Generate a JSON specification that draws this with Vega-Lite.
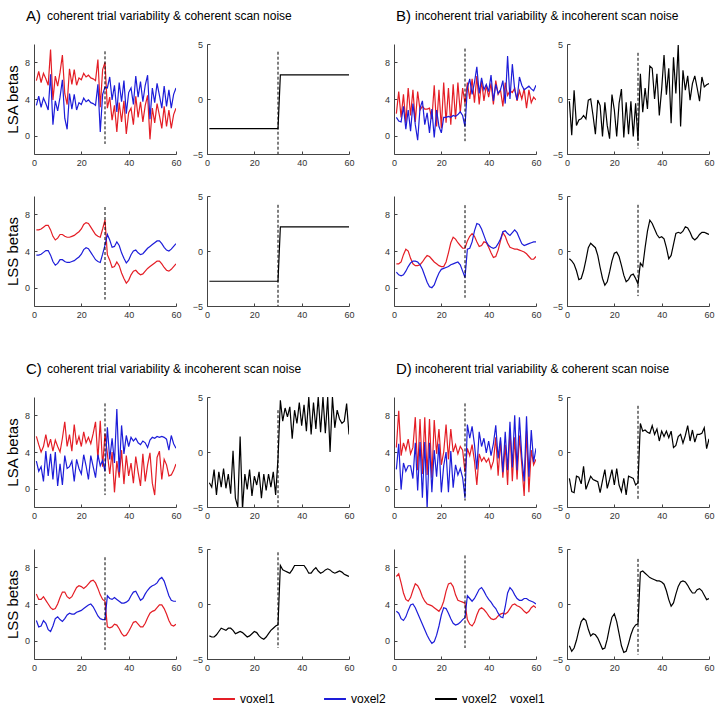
{
"$schema":"https://vega.github.io/schema/vega-lite/v6.json",
"padding":{"left":5,"top":9,"right":2,"bottom":2},
"data":{"values":[
{"x":1,"a1r":6.0,"a1b":3.3,"a1k":-2.7,"a2r":6.3,"a2b":3.55,"a2k":-2.75,"b1r":2.4,"b1b":2.0,"b1k":-0.2,"b2r":2.6,"b2b":1.7,"b2k":-0.7,"c1r":5.7,"c1b":3.0,"c1k":-2.8,"c2r":5.1,"c2b":2.2,"c2k":-2.9,"d1r":4.5,"d1b":2.1,"d1k":-2.4,"d2r":7.0,"d2b":3.2,"d2k":-3.8},
{"x":2,"a1r":7.0,"a1b":4.3,"a1k":-2.7,"a2r":6.3,"a2b":3.55,"a2k":-2.75,"b1r":4.8,"b1b":1.6,"b1k":-3.3,"b2r":2.6,"b2b":1.4,"b2k":-0.9,"c1r":4.8,"c1b":1.9,"c1k":-3.2,"c2r":4.5,"c2b":1.5,"c2k":-3.0,"d1r":8.5,"d1b":4.9,"d1k":-3.6,"d2r":7.3,"d2b":3.0,"d2k":-4.3},
{"x":3,"a1r":5.8,"a1b":3.1,"a1k":-2.7,"a2r":6.4,"a2b":3.65,"a2k":-2.75,"b1r":2.0,"b1b":1.5,"b1k":0.8,"b2r":2.8,"b2b":1.3,"b2k":-1.2,"c1r":4.0,"c1b":2.4,"c1k":-1.6,"c2r":4.5,"c2b":1.6,"c2k":-3.0,"d1r":3.6,"d1b":-0.1,"d1k":-3.7,"d2r":6.3,"d2b":2.4,"d2k":-4.0},
{"x":4,"a1r":6.8,"a1b":4.1,"a1k":-2.7,"a2r":6.6,"a2b":3.85,"a2k":-2.75,"b1r":4.5,"b1b":3.2,"b1k":-2.4,"b2r":3.6,"b2b":1.4,"b2k":-1.8,"c1r":4.6,"c1b":0.8,"c1k":-3.9,"c2r":4.8,"c2b":2.2,"c2k":-2.8,"d1r":5.0,"d1b":2.8,"d1k":-2.2,"d2r":5.2,"d2b":2.2,"d2k":-3.3},
{"x":5,"a1r":6.2,"a1b":3.5,"a1k":-2.7,"a2r":6.8,"a2b":4.05,"a2k":-2.75,"b1r":1.4,"b1b":0.7,"b1k":-1.9,"b2r":4.2,"b2b":1.8,"b2k":-2.6,"c1r":5.9,"c1b":4.1,"c1k":-1.8,"c2r":4.4,"c2b":1.9,"c2k":-2.5,"d1r":4.2,"d1b":1.9,"d1k":-2.3,"d2r":4.5,"d2b":2.6,"d2k":-2.4},
{"x":6,"a1r":5.5,"a1b":2.8,"a1k":-2.7,"a2r":6.8,"a2b":4.05,"a2k":-2.75,"b1r":5.2,"b1b":2.8,"b1k":-1.8,"b2r":4.0,"b2b":2.3,"b2k":-2.5,"c1r":4.5,"c1b":1.4,"c1k":-3.2,"c2r":4.0,"c2b":1.2,"c2k":-2.2,"d1r":5.4,"d1b":2.5,"d1k":-2.9,"d2r":4.3,"d2b":3.3,"d2k":-1.6},
{"x":7,"a1r":9.4,"a1b":6.7,"a1k":-2.7,"a2r":6.3,"a2b":3.55,"a2k":-2.75,"b1r":2.2,"b1b":0.5,"b1k":-1.5,"b2r":3.2,"b2b":2.7,"b2k":-1.8,"c1r":5.4,"c1b":3.8,"c1k":-1.5,"c2r":3.6,"c2b":1.0,"c2k":-2.3,"d1r":3.8,"d1b":2.5,"d1k":-1.3,"d2r":4.7,"d2b":3.9,"d2k":-1.3},
{"x":8,"a1r":3.9,"a1b":1.2,"a1k":-2.7,"a2r":5.6,"a2b":2.85,"a2k":-2.75,"b1r":5.0,"b1b":3.5,"b1k":-1.8,"b2r":2.6,"b2b":2.9,"b2k":-0.8,"c1r":4.1,"c1b":1.0,"c1k":-3.3,"c2r":3.4,"c2b":1.6,"c2k":-2.4,"d1r":4.5,"d1b":1.1,"d1k":-3.4,"d2r":5.5,"d2b":4.0,"d2k":-1.5},
{"x":9,"a1r":6.5,"a1b":3.8,"a1k":-2.7,"a2r":5.2,"a2b":2.45,"a2k":-2.75,"b1r":1.5,"b1b":1.2,"b1k":-0.1,"b2r":2.4,"b2b":2.9,"b2k":0.3,"c1r":5.3,"c1b":4.0,"c1k":-2.0,"c2r":3.5,"c2b":2.4,"c2k":-2.2,"d1r":7.8,"d1b":5.0,"d1k":-2.8,"d2r":6.2,"d2b":3.6,"d2k":-2.3},
{"x":10,"a1r":5.4,"a1b":2.7,"a1k":-2.7,"a2r":5.4,"a2b":2.65,"a2k":-2.75,"b1r":4.8,"b1b":-0.5,"b1k":0.0,"b2r":2.4,"b2b":2.8,"b2k":0.7,"c1r":4.6,"c1b":0.3,"c1k":-3.8,"c2r":4.0,"c2b":2.6,"c2k":-2.2,"d1r":2.0,"d1b":-0.2,"d1k":-2.2,"d2r":6.0,"d2b":3.0,"d2k":-2.9},
{"x":11,"a1r":6.9,"a1b":4.2,"a1k":-2.7,"a2r":5.8,"a2b":3.05,"a2k":-2.75,"b1r":2.8,"b1b":3.0,"b1k":-1.5,"b2r":2.5,"b2b":2.5,"b2k":0.5,"c1r":4.0,"c1b":2.7,"c1k":0.1,"c2r":4.7,"c2b":2.3,"c2k":-2.4,"d1r":7.6,"d1b":5.1,"d1k":-2.5,"d2r":5.5,"d2b":2.4,"d2k":-2.7},
{"x":12,"a1r":8.8,"a1b":6.1,"a1k":-2.7,"a2r":5.8,"a2b":3.05,"a2k":-2.75,"b1r":3.2,"b1b":3.8,"b1k":-3.2,"b2r":2.8,"b2b":2.0,"b2k":0.3,"c1r":5.5,"c1b":0.4,"c1k":-4.2,"c2r":5.3,"c2b":2.1,"c2k":-2.7,"d1r":1.6,"d1b":-1.0,"d1k":-2.6,"d2r":4.8,"d2b":1.8,"d2k":-2.8},
{"x":13,"a1r":4.6,"a1b":1.9,"a1k":-2.7,"a2r":5.6,"a2b":2.85,"a2k":-2.75,"b1r":2.9,"b1b":1.2,"b1k":-0.1,"b2r":3.2,"b2b":1.3,"b2k":-0.4,"c1r":7.3,"c1b":3.6,"c1k":-5.0,"c2r":5.3,"c2b":2.4,"c2k":-2.6,"d1r":7.8,"d1b":5.1,"d1k":-2.7,"d2r":4.3,"d2b":1.2,"d2k":-3.1},
{"x":14,"a1r":3.4,"a1b":0.7,"a1k":-2.7,"a2r":5.5,"a2b":2.75,"a2k":-2.75,"b1r":2.9,"b1b":2.5,"b1k":-0.6,"b2r":3.5,"b2b":0.6,"b2k":-1.5,"c1r":4.6,"c1b":2.2,"c1k":1.4,"c2r":4.8,"c2b":2.8,"c2k":-2.5,"d1r":1.5,"d1b":-2.2,"d1k":-3.7,"d2r":4.0,"d2b":0.6,"d2k":-3.6},
{"x":15,"a1r":7.3,"a1b":4.6,"a1k":-2.7,"a2r":5.5,"a2b":2.75,"a2k":-2.75,"b1r":3.0,"b1b":0.3,"b1k":-3.4,"b2r":3.4,"b2b":0.1,"b2k":-2.5,"c1r":5.9,"c1b":2.4,"c1k":-5.2,"c2r":4.6,"c2b":3.0,"c2k":-2.6,"d1r":7.6,"d1b":5.0,"d1k":-2.6,"d2r":3.9,"d2b":0.1,"d2k":-4.1},
{"x":16,"a1r":5.6,"a1b":2.9,"a1k":-2.7,"a2r":5.6,"a2b":2.85,"a2k":-2.75,"b1r":1.8,"b1b":2.9,"b1k":-0.3,"b2r":3.1,"b2b":0.0,"b2k":-3.1,"c1r":4.1,"c1b":3.0,"c1k":-2.0,"c2r":4.8,"c2b":2.9,"c2k":-2.8,"d1r":1.2,"d1b":-0.4,"d1k":-1.6,"d2r":3.8,"d2b":-0.3,"d2k":-4.0},
{"x":17,"a1r":7.2,"a1b":4.5,"a1k":-2.7,"a2r":5.7,"a2b":2.95,"a2k":-2.75,"b1r":5.5,"b1b":-0.2,"b1k":-2.4,"b2r":2.8,"b2b":0.3,"b2k":-2.8,"c1r":7.0,"c1b":0.8,"c1k":-3.4,"c2r":5.3,"c2b":2.9,"c2k":-3.0,"d1r":7.5,"d1b":4.2,"d1k":-3.3,"d2r":3.6,"d2b":-0.1,"d2k":-3.2},
{"x":18,"a1r":5.5,"a1b":2.8,"a1k":-2.7,"a2r":5.9,"a2b":3.15,"a2k":-2.75,"b1r":1.0,"b1b":2.8,"b1k":-3.6,"b2r":2.6,"b2b":1.0,"b2k":-1.9,"c1r":4.8,"c1b":3.2,"c1k":-1.6,"c2r":5.8,"c2b":3.1,"c2k":-2.9,"d1r":3.8,"d1b":1.3,"d1k":-2.5,"d2r":3.4,"d2b":0.6,"d2k":-2.1},
{"x":19,"a1r":6.3,"a1b":3.6,"a1k":-2.7,"a2r":6.1,"a2b":3.35,"a2k":-2.75,"b1r":5.0,"b1b":1.0,"b1k":0.4,"b2r":2.4,"b2b":1.6,"b2k":-0.9,"c1r":5.7,"c1b":2.2,"c1k":-4.0,"c2r":6.0,"c2b":3.2,"c2k":-2.7,"d1r":6.5,"d1b":4.9,"d1k":-1.6,"d2r":3.2,"d2b":1.6,"d2k":-1.2},
{"x":20,"a1r":6.1,"a1b":3.4,"a1k":-2.7,"a2r":6.4,"a2b":3.65,"a2k":-2.75,"b1r":0.8,"b1b":0.3,"b1k":-1.0,"b2r":2.3,"b2b":2.0,"b2k":-0.2,"c1r":4.6,"c1b":1.6,"c1k":-2.2,"c2r":5.9,"c2b":3.3,"c2k":-2.5,"d1r":2.6,"d1b":-0.4,"d1k":-3.0,"d2r":3.6,"d2b":2.8,"d2k":-0.9},
{"x":21,"a1r":6.8,"a1b":4.1,"a1k":-2.7,"a2r":6.9,"a2b":4.15,"a2k":-2.75,"b1r":5.8,"b1b":2.0,"b1k":-3.4,"b2r":2.3,"b2b":2.1,"b2k":-0.1,"c1r":6.2,"c1b":3.7,"c1k":-3.0,"c2r":5.7,"c2b":3.5,"c2k":-2.6,"d1r":4.0,"d1b":2.5,"d1k":-1.5,"d2r":4.3,"d2b":3.6,"d2k":-1.6},
{"x":22,"a1r":6.4,"a1b":3.7,"a1k":-2.7,"a2r":7.1,"a2b":4.35,"a2k":-2.75,"b1r":1.4,"b1b":2.0,"b1k":-0.4,"b2r":2.8,"b2b":2.2,"b2k":-0.5,"c1r":5.0,"c1b":2.5,"c1k":-1.8,"c2r":5.9,"c2b":3.7,"c2k":-2.9,"d1r":7.0,"d1b":4.0,"d1k":-3.0,"d2r":5.4,"d2b":3.5,"d2k":-2.7},
{"x":23,"a1r":6.6,"a1b":3.9,"a1k":-2.7,"a2r":7.0,"a2b":4.25,"a2k":-2.75,"b1r":5.2,"b1b":2.1,"b1k":0.9,"b2r":3.8,"b2b":2.3,"b2k":-1.3,"c1r":5.6,"c1b":1.0,"c1k":-4.2,"c2r":6.2,"c2b":3.9,"c2k":-3.1,"d1r":3.2,"d1b":-0.4,"d1k":-3.6,"d2r":6.2,"d2b":3.0,"d2k":-3.8},
{"x":24,"a1r":6.3,"a1b":3.6,"a1k":-2.7,"a2r":6.6,"a2b":3.85,"a2k":-2.75,"b1r":1.2,"b1b":2.0,"b1k":-3.5,"b2r":4.9,"b2b":2.5,"b2k":-2.2,"c1r":4.9,"c1b":3.6,"c1k":-2.0,"c2r":6.5,"c2b":4.0,"c2k":-3.2,"d1r":6.5,"d1b":4.1,"d1k":-2.4,"d2r":6.3,"d2b":2.4,"d2k":-4.4},
{"x":25,"a1r":6.2,"a1b":3.5,"a1k":-2.7,"a2r":6.2,"a2b":3.45,"a2k":-2.75,"b1r":5.6,"b1b":2.2,"b1k":-0.3,"b2r":5.5,"b2b":2.6,"b2k":-2.8,"c1r":6.0,"c1b":2.4,"c1k":-3.5,"c2r":6.6,"c2b":3.7,"c2k":-3.0,"d1r":4.0,"d1b":0.1,"d1k":-3.9,"d2r":5.9,"d2b":1.9,"d2k":-4.3},
{"x":26,"a1r":6.0,"a1b":3.3,"a1k":-2.7,"a2r":5.8,"a2b":3.05,"a2k":-2.75,"b1r":1.8,"b1b":2.1,"b1k":-3.2,"b2r":5.3,"b2b":2.7,"b2k":-2.6,"c1r":7.3,"c1b":1.2,"c1k":-2.0,"c2r":6.3,"c2b":3.2,"c2k":-2.7,"d1r":4.8,"d1b":2.6,"d1k":-2.2,"d2r":5.0,"d2b":1.7,"d2k":-3.6},
{"x":27,"a1r":8.3,"a1b":5.6,"a1k":-2.7,"a2r":5.6,"a2b":2.85,"a2k":-2.75,"b1r":5.8,"b1b":2.3,"b1k":-0.2,"b2r":4.9,"b2b":2.8,"b2k":-2.2,"c1r":3.2,"c1b":3.7,"c1k":-3.2,"c2r":5.7,"c2b":2.7,"c2k":-2.4,"d1r":3.8,"d1b":1.5,"d1k":-2.3,"d2r":4.4,"d2b":1.8,"d2k":-2.8},
{"x":28,"a1r":3.1,"a1b":0.4,"a1k":-2.7,"a2r":5.5,"a2b":2.75,"a2k":-2.75,"b1r":2.5,"b1b":2.6,"b1k":-3.4,"b2r":4.6,"b2b":2.5,"b2k":-2.1,"c1r":7.4,"c1b":2.5,"c1k":-1.8,"c2r":5.0,"c2b":2.4,"c2k":-2.2,"d1r":4.6,"d1b":2.2,"d1k":-2.4,"d2r":4.3,"d2b":2.0,"d2k":-2.2},
{"x":29,"a1r":7.2,"a1b":4.5,"a1k":-2.7,"a2r":6.4,"a2b":3.65,"a2k":-2.75,"b1r":5.2,"b1b":2.2,"b1k":-0.4,"b2r":4.3,"b2b":1.8,"b2k":-2.5,"c1r":2.4,"c1b":3.1,"c1k":-3.9,"c2r":4.5,"c2b":2.3,"c2k":-2.0,"d1r":4.2,"d1b":1.2,"d1k":-3.0,"d2r":4.2,"d2b":2.3,"d2k":-1.9},
{"x":30,"a1r":8.0,"a1b":5.3,"a1k":-2.7,"a2r":7.4,"a2b":4.65,"a2k":-2.75,"b1r":3.5,"b1b":1.0,"b1k":-3.8,"b2r":4.3,"b2b":1.1,"b2k":-3.0,"c1r":6.0,"c1b":1.9,"c1k":-0.6,"c2r":4.3,"c2b":2.3,"c2k":-1.9,"d1r":1.8,"d1b":-1.0,"d1k":-2.8,"d2r":4.1,"d2b":2.5,"d2k":-1.8},
{"x":31,"a1r":3.0,"a1b":5.2,"a1k":2.2,"a2r":3.6,"a2b":5.8,"a2k":2.2,"b1r":5.8,"b1b":5.2,"b1k":2.3,"b2r":5.1,"b2b":4.2,"b2k":-1.1,"c1r":3.8,"c1b":6.7,"c1k":4.7,"c2r":1.5,"c2b":4.9,"c2k":3.5,"d1r":4.4,"d1b":7.0,"d1k":2.6,"d2r":2.3,"d2b":4.9,"d2k":2.9},
{"x":32,"a1r":4.2,"a1b":6.4,"a1k":2.2,"a2r":3.0,"a2b":5.2,"a2k":2.2,"b1r":4.0,"b1b":6.2,"b1k":-1.2,"b2r":5.6,"b2b":4.3,"b2k":-1.4,"c1r":1.6,"c1b":3.2,"c1k":2.8,"c2r":1.4,"c2b":4.6,"c2k":3.1,"d1r":3.6,"d1b":5.5,"d1k":1.9,"d2r":1.8,"d2b":4.6,"d2k":3.0},
{"x":33,"a1r":1.7,"a1b":3.9,"a1k":2.2,"a2r":2.2,"a2b":4.4,"a2k":2.2,"b1r":6.2,"b1b":4.5,"b1k":1.0,"b2r":5.9,"b2b":5.0,"b2k":0.3,"c1r":4.0,"c1b":5.5,"c1k":4.0,"c2r":1.5,"c2b":4.5,"c2k":3.0,"d1r":4.8,"d1b":6.8,"d1k":2.0,"d2r":1.6,"d2b":4.3,"d2k":2.8},
{"x":34,"a1r":3.3,"a1b":5.5,"a1k":2.2,"a2r":2.3,"a2b":4.5,"a2k":2.2,"b1r":3.6,"b1b":5.8,"b1k":-0.9,"b2r":5.6,"b2b":6.2,"b2k":1.8,"c1r":-0.4,"c1b":2.8,"c1k":3.2,"c2r":1.8,"c2b":4.7,"c2k":2.9,"d1r":3.0,"d1b":4.8,"d1k":1.8,"d2r":2.0,"d2b":4.6,"d2k":2.6},
{"x":35,"a1r":0.4,"a1b":2.6,"a1k":2.2,"a2r":2.8,"a2b":5.0,"a2k":2.2,"b1r":6.5,"b1b":7.5,"b1k":3.0,"b2r":5.0,"b2b":7.0,"b2k":2.8,"c1r":3.0,"c1b":8.7,"c1k":4.1,"c2r":1.7,"c2b":4.5,"c2k":2.8,"d1r":0.4,"d1b":2.1,"d1k":1.7,"d2r":2.8,"d2b":5.1,"d2k":2.4},
{"x":36,"a1r":3.6,"a1b":5.8,"a1k":2.2,"a2r":2.4,"a2b":4.6,"a2k":2.2,"b1r":3.4,"b1b":4.6,"b1k":2.8,"b2r":4.5,"b2b":6.9,"b2k":2.5,"c1r":1.2,"c1b":1.8,"c1k":1.2,"c2r":1.3,"c2b":4.3,"c2k":3.1,"d1r":3.8,"d1b":6.2,"d1k":2.4,"d2r":3.4,"d2b":5.6,"d2k":2.3},
{"x":37,"a1r":1.5,"a1b":3.7,"a1k":2.2,"a2r":1.6,"a2b":3.8,"a2k":2.2,"b1r":6.0,"b1b":6.3,"b1k":0.0,"b2r":4.6,"b2b":6.4,"b2k":2.0,"c1r":4.2,"c1b":6.9,"c1k":3.8,"c2r":0.8,"c2b":4.1,"c2k":3.5,"d1r":3.0,"d1b":4.6,"d1k":1.6,"d2r":3.6,"d2b":5.8,"d2k":2.2},
{"x":38,"a1r":3.8,"a1b":6.0,"a1k":2.2,"a2r":1.0,"a2b":3.2,"a2k":2.2,"b1r":3.8,"b1b":5.0,"b1k":2.3,"b2r":5.0,"b2b":5.7,"b2k":1.5,"c1r":0.5,"c1b":3.8,"c1k":2.6,"c2r":0.5,"c2b":4.1,"c2k":3.5,"d1r":3.4,"d1b":5.5,"d1k":2.1,"d2r":3.4,"d2b":5.4,"d2k":2.1},
{"x":39,"a1r":0.2,"a1b":2.4,"a1k":2.2,"a2r":0.5,"a2b":2.7,"a2k":2.2,"b1r":5.5,"b1b":5.6,"b1k":-1.5,"b2r":4.9,"b2b":5.0,"b2k":1.2,"c1r":3.6,"c1b":5.8,"c1k":4.5,"c2r":0.6,"c2b":4.2,"c2k":3.5,"d1r":2.9,"d1b":3.9,"d1k":1.0,"d2r":3.1,"d2b":4.9,"d2k":2.1},
{"x":40,"a1r":2.5,"a1b":4.7,"a1k":2.2,"a2r":0.8,"a2b":3.0,"a2k":2.2,"b1r":4.2,"b1b":4.8,"b1k":0.9,"b2r":4.4,"b2b":4.6,"b2k":1.3,"c1r":1.4,"c1b":4.6,"c1k":2.4,"c2r":1.0,"c2b":4.4,"c2k":3.5,"d1r":3.3,"d1b":5.2,"d1k":1.9,"d2r":2.7,"d2b":4.5,"d2k":2.0},
{"x":41,"a1r":3.0,"a1b":5.2,"a1k":2.2,"a2r":1.4,"a2b":3.6,"a2k":2.2,"b1r":5.7,"b1b":6.6,"b1k":4.0,"b2r":3.8,"b2b":4.4,"b2k":1.1,"c1r":2.8,"c1b":5.6,"c1k":4.3,"c2r":1.5,"c2b":4.9,"c2k":3.5,"d1r":2.2,"d1b":3.6,"d1k":1.4,"d2r":2.4,"d2b":4.2,"d2k":1.8},
{"x":42,"a1r":1.2,"a1b":3.4,"a1k":2.2,"a2r":1.8,"a2b":4.0,"a2k":2.2,"b1r":3.4,"b1b":3.8,"b1k":0.4,"b2r":3.3,"b2b":4.3,"b2k":0.3,"c1r":0.6,"c1b":5.2,"c1k":1.9,"c2r":2.0,"c2b":5.3,"c2k":3.2,"d1r":3.0,"d1b":4.9,"d1k":1.9,"d2r":2.3,"d2b":3.8,"d2k":1.2},
{"x":43,"a1r":4.3,"a1b":6.5,"a1k":2.2,"a2r":1.9,"a2b":4.1,"a2k":2.2,"b1r":6.0,"b1b":5.6,"b1k":2.8,"b2r":3.4,"b2b":4.4,"b2k":-0.7,"c1r":3.5,"c1b":5.5,"c1k":5.0,"c2r":2.1,"c2b":5.4,"c2k":2.8,"d1r":5.6,"d1b":6.9,"d1k":1.3,"d2r":2.4,"d2b":3.5,"d2k":0.4},
{"x":44,"a1r":2.0,"a1b":4.2,"a1k":2.2,"a2r":1.6,"a2b":3.8,"a2k":2.2,"b1r":4.5,"b1b":4.6,"b1k":-2.2,"b2r":4.1,"b2b":4.8,"b2k":-0.4,"c1r":1.8,"c1b":5.0,"c1k":1.6,"c2r":1.8,"c2b":4.9,"c2k":2.8,"d1r":1.4,"d1b":3.3,"d1k":1.9,"d2r":2.7,"d2b":3.0,"d2k":-0.2},
{"x":45,"a1r":3.7,"a1b":5.9,"a1k":2.2,"a2r":1.4,"a2b":3.6,"a2k":2.2,"b1r":5.0,"b1b":5.0,"b1k":3.8,"b2r":5.1,"b2b":5.3,"b2k":0.6,"c1r":0.3,"c1b":4.8,"c1k":4.5,"c2r":1.5,"c2b":4.4,"c2k":3.1,"d1r":5.2,"d1b":5.6,"d1k":0.4,"d2r":2.9,"d2b":2.6,"d2k":0.1},
{"x":46,"a1r":1.5,"a1b":3.7,"a1k":2.2,"a2r":1.5,"a2b":3.7,"a2k":2.2,"b1r":3.2,"b1b":6.0,"b1k":0.5,"b2r":6.0,"b2b":6.1,"b2k":1.6,"c1r":3.8,"c1b":5.2,"c1k":2.1,"c2r":1.5,"c2b":4.6,"c2k":3.3,"d1r":1.2,"d1b":1.8,"d1k":0.6,"d2r":3.0,"d2b":2.5,"d2k":0.9},
{"x":47,"a1r":3.3,"a1b":5.5,"a1k":2.2,"a2r":1.8,"a2b":4.0,"a2k":2.2,"b1r":5.8,"b1b":3.5,"b1k":4.9,"b2r":5.6,"b2b":6.2,"b2k":1.7,"c1r":0.8,"c1b":5.0,"c1k":5.0,"c2r":1.9,"c2b":5.1,"c2k":3.0,"d1r":4.8,"d1b":6.2,"d1k":1.4,"d2r":2.9,"d2b":3.7,"d2k":1.6},
{"x":48,"a1r":4.4,"a1b":6.6,"a1k":2.2,"a2r":2.1,"a2b":4.3,"a2k":2.2,"b1r":4.4,"b1b":8.7,"b1k":-2.5,"b2r":4.9,"b2b":5.9,"b2k":1.6,"c1r":2.6,"c1b":4.5,"c1k":1.8,"c2r":2.5,"c2b":5.5,"c2k":2.8,"d1r":0.4,"d1b":2.0,"d1k":1.6,"d2r":3.1,"d2b":5.2,"d2k":2.0},
{"x":49,"a1r":-0.4,"a1b":1.8,"a1k":2.2,"a2r":2.3,"a2b":4.5,"a2k":2.2,"b1r":4.9,"b1b":4.0,"b1k":2.6,"b2r":4.4,"b2b":5.7,"b2k":1.8,"c1r":3.9,"c1b":5.3,"c1k":5.0,"c2r":3.0,"c2b":5.8,"c2k":2.9,"d1r":6.5,"d1b":7.3,"d1k":0.8,"d2r":3.5,"d2b":5.8,"d2k":2.1},
{"x":50,"a1r":3.0,"a1b":5.2,"a1k":2.2,"a2r":2.5,"a2b":4.7,"a2k":2.2,"b1r":4.7,"b1b":7.8,"b1k":0.8,"b2r":4.3,"b2b":6.0,"b2k":2.2,"c1r":0.6,"c1b":5.6,"c1k":1.7,"c2r":3.2,"c2b":6.0,"c2k":3.1,"d1r":0.8,"d1b":2.3,"d1k":1.5,"d2r":3.9,"d2b":5.5,"d2k":2.0},
{"x":51,"a1r":1.4,"a1b":3.6,"a1k":2.2,"a2r":2.7,"a2b":4.9,"a2k":2.2,"b1r":5.2,"b1b":5.0,"b1k":2.1,"b2r":4.2,"b2b":6.3,"b2k":2.1,"c1r":-0.7,"c1b":5.5,"c1k":5.0,"c2r":3.3,"c2b":6.1,"c2k":3.2,"d1r":5.6,"d1b":8.0,"d1k":2.4,"d2r":4.0,"d2b":5.0,"d2k":1.7},
{"x":52,"a1r":3.5,"a1b":5.7,"a1k":2.2,"a2r":2.9,"a2b":5.1,"a2k":2.2,"b1r":3.8,"b1b":3.9,"b1k":-0.1,"b2r":4.2,"b2b":6.0,"b2k":1.7,"c1r":3.4,"c1b":5.7,"c1k":0.0,"c2r":3.6,"c2b":6.3,"c2k":3.1,"d1r":1.0,"d1b":2.0,"d1k":1.0,"d2r":3.8,"d2b":4.6,"d2k":1.3},
{"x":53,"a1r":2.2,"a1b":4.4,"a1k":2.2,"a2r":2.9,"a2b":5.1,"a2k":2.2,"b1r":4.9,"b1b":6.4,"b1k":1.4,"b2r":4.1,"b2b":5.4,"b2k":1.2,"c1r":4.1,"c1b":5.6,"c1k":5.0,"c2r":3.9,"c2b":6.7,"c2k":2.9,"d1r":5.8,"d1b":7.8,"d1k":2.0,"d2r":3.7,"d2b":4.4,"d2k":1.0},
{"x":54,"a1r":0.8,"a1b":3.0,"a1k":2.2,"a2r":2.6,"a2b":4.8,"a2k":2.2,"b1r":4.0,"b1b":5.5,"b1k":2.1,"b2r":4.0,"b2b":4.8,"b2k":1.0,"c1r":1.0,"c1b":5.7,"c1k":2.2,"c2r":3.9,"c2b":6.9,"c2k":2.8,"d1r":2.6,"d1b":3.5,"d1k":0.9,"d2r":3.5,"d2b":4.4,"d2k":1.0},
{"x":55,"a1r":3.2,"a1b":5.4,"a1k":2.2,"a2r":2.2,"a2b":4.4,"a2k":2.2,"b1r":5.1,"b1b":5.0,"b1k":1.0,"b2r":3.9,"b2b":4.6,"b2k":1.2,"c1r":3.2,"c1b":5.6,"c1k":3.8,"c2r":3.5,"c2b":6.5,"c2k":2.9,"d1r":-0.8,"d1b":0.8,"d1k":1.6,"d2r":3.2,"d2b":4.6,"d2k":1.3},
{"x":56,"a1r":1.0,"a1b":3.2,"a1k":2.2,"a2r":1.9,"a2b":4.1,"a2k":2.2,"b1r":3.0,"b1b":5.2,"b1k":-0.2,"b2r":3.7,"b2b":4.7,"b2k":1.5,"c1r":2.6,"c1b":5.4,"c1k":3.0,"c2r":2.9,"c2b":5.7,"c2k":3.0,"d1r":6.3,"d1b":7.9,"d1k":1.6,"d2r":3.0,"d2b":4.6,"d2k":1.4},
{"x":57,"a1r":2.8,"a1b":5.0,"a1k":2.2,"a2r":1.8,"a2b":4.0,"a2k":2.2,"b1r":5.0,"b1b":5.4,"b1k":2.0,"b2r":3.4,"b2b":4.8,"b2k":1.7,"c1r":1.4,"c1b":4.2,"c1k":2.6,"c2r":2.2,"c2b":4.9,"c2k":2.9,"d1r":-0.4,"d1b":1.3,"d1k":1.7,"d2r":3.2,"d2b":4.4,"d2k":1.2},
{"x":58,"a1r":0.8,"a1b":3.0,"a1k":2.2,"a2r":2.0,"a2b":4.2,"a2k":2.2,"b1r":3.6,"b1b":5.1,"b1k":1.1,"b2r":3.1,"b2b":4.9,"b2k":1.7,"c1r":1.5,"c1b":5.8,"c1k":2.8,"c2r":1.7,"c2b":4.4,"c2k":2.7,"d1r":4.2,"d1b":6.4,"d1k":2.2,"d2r":3.6,"d2b":4.3,"d2k":0.8},
{"x":59,"a1r":2.3,"a1b":4.5,"a1k":2.2,"a2r":2.3,"a2b":4.5,"a2k":2.2,"b1r":4.2,"b1b":4.9,"b1k":1.3,"b2r":3.1,"b2b":5.0,"b2k":1.6,"c1r":2.0,"c1b":4.9,"c1k":4.4,"c2r":1.6,"c2b":4.3,"c2k":2.6,"d1r":2.6,"d1b":2.9,"d1k":0.3,"d2r":3.8,"d2b":4.2,"d2k":0.4},
{"x":60,"a1r":3.0,"a1b":5.2,"a1k":2.2,"a2r":2.6,"a2b":4.8,"a2k":2.2,"b1r":3.9,"b1b":5.5,"b1k":1.4,"b2r":3.4,"b2b":5.0,"b2k":1.5,"c1r":2.7,"c1b":4.4,"c1k":1.6,"c2r":1.8,"c2b":4.3,"c2k":2.5,"d1r":3.2,"d1b":4.4,"d1k":1.2,"d2r":3.6,"d2b":4.0,"d2k":0.5}
]},
"concat":[
{"title":{"text":"A)","anchor":"start","frame":"group","fontSize":15,"dx":-8,"dy":14,"offset":0},
 "columns":2,"spacing":{"row":42,"column":31},"bounds":"flush",
 "concat":[
  {"width":142,"height":110,
   "title":{"text":"coherent trial variability & coherent scan noise","anchor":"start","frame":"group","fontSize":12,"dx":13,"offset":21},
   "layer":[
    {"mark":{"type":"line","strokeWidth":1.2,"clip":true},"encoding":{"x":{"field":"x","type":"quantitative","scale":{"domain":[0,60],"nice":false},"axis":{"values":[0,20,40,60],"title":null}},"y":{"field":"a1r","type":"quantitative","scale":{"domain":[-2,10],"nice":false},"axis":{"values":[0,4,8],"title":"LSA betas"}},"color":{"datum":"voxel1","type":"nominal","scale":{"domain":["voxel1","voxel2","voxel2\u00a0\u00a0\u00a0\u00a0voxel1"],"range":["#e41e26","#1d1dd9","#000000"]},"legend":{"title":null}}}},
    {"mark":{"type":"line","strokeWidth":1.2,"clip":true},"encoding":{"x":{"field":"x","type":"quantitative","scale":{"domain":[0,60],"nice":false},"axis":{"values":[0,20,40,60],"title":null}},"y":{"field":"a1b","type":"quantitative","scale":{"domain":[-2,10],"nice":false},"axis":{"values":[0,4,8],"title":"LSA betas"}},"color":{"datum":"voxel2","type":"nominal"}}},
    {"data":{"values":[{}]},"mark":{"type":"rule","strokeDash":[3,2],"color":"#000","strokeWidth":1},"encoding":{"x":{"datum":30},"y":{"datum":9.2},"y2":{"datum":-0.9}}}
   ]},
  {"width":142,"height":110,
   "layer":[
    {"mark":{"type":"line","strokeWidth":1.2,"clip":true},"encoding":{"x":{"field":"x","type":"quantitative","scale":{"domain":[0,60],"nice":false},"axis":{"values":[0,20,40,60],"title":null}},"y":{"field":"a1k","type":"quantitative","scale":{"domain":[-5,5],"nice":false},"axis":{"values":[-5,0,5],"title":null}},"color":{"datum":"voxel2\u00a0\u00a0\u00a0\u00a0voxel1","type":"nominal"}}},
    {"data":{"values":[{}]},"mark":{"type":"rule","strokeDash":[3,2],"color":"#000","strokeWidth":1},"encoding":{"x":{"datum":30},"y":{"datum":4.3},"y2":{"datum":-5}}}
   ]},
  {"width":142,"height":110,
   "layer":[
    {"mark":{"type":"line","strokeWidth":1.2,"clip":true},"encoding":{"x":{"field":"x","type":"quantitative","scale":{"domain":[0,60],"nice":false},"axis":{"values":[0,20,40,60],"title":null}},"y":{"field":"a2r","type":"quantitative","scale":{"domain":[-2,10],"nice":false},"axis":{"values":[0,4,8],"title":"LSS betas"}},"color":{"datum":"voxel1","type":"nominal"}}},
    {"mark":{"type":"line","strokeWidth":1.2,"clip":true},"encoding":{"x":{"field":"x","type":"quantitative","scale":{"domain":[0,60],"nice":false},"axis":{"values":[0,20,40,60],"title":null}},"y":{"field":"a2b","type":"quantitative","scale":{"domain":[-2,10],"nice":false},"axis":{"values":[0,4,8],"title":"LSS betas"}},"color":{"datum":"voxel2","type":"nominal"}}},
    {"data":{"values":[{}]},"mark":{"type":"rule","strokeDash":[3,2],"color":"#000","strokeWidth":1},"encoding":{"x":{"datum":30},"y":{"datum":8.8},"y2":{"datum":-1.3}}}
   ]},
  {"width":142,"height":110,
   "layer":[
    {"mark":{"type":"line","strokeWidth":1.2,"clip":true},"encoding":{"x":{"field":"x","type":"quantitative","scale":{"domain":[0,60],"nice":false},"axis":{"values":[0,20,40,60],"title":null}},"y":{"field":"a2k","type":"quantitative","scale":{"domain":[-5,5],"nice":false},"axis":{"values":[-5,0,5],"title":null}},"color":{"datum":"voxel2\u00a0\u00a0\u00a0\u00a0voxel1","type":"nominal"}}},
    {"data":{"values":[{}]},"mark":{"type":"rule","strokeDash":[3,2],"color":"#000","strokeWidth":1},"encoding":{"x":{"datum":30},"y":{"datum":4.2},"y2":{"datum":-5}}}
   ]}
 ]},
{"title":{"text":"B)","anchor":"start","frame":"group","fontSize":15,"dx":2,"dy":14,"offset":0},
 "columns":2,"spacing":{"row":42,"column":31},"bounds":"flush",
 "concat":[
  {"width":142,"height":110,
   "title":{"text":"incoherent trial variability & incoherent scan noise","anchor":"start","frame":"group","fontSize":12,"dx":21,"offset":21},
   "layer":[
    {"mark":{"type":"line","strokeWidth":1.2,"clip":true},"encoding":{"x":{"field":"x","type":"quantitative","scale":{"domain":[0,60],"nice":false},"axis":{"values":[0,20,40,60],"title":null}},"y":{"field":"b1r","type":"quantitative","scale":{"domain":[-2,10],"nice":false},"axis":{"values":[0,4,8],"title":null}},"color":{"datum":"voxel1","type":"nominal"}}},
    {"mark":{"type":"line","strokeWidth":1.2,"clip":true},"encoding":{"x":{"field":"x","type":"quantitative","scale":{"domain":[0,60],"nice":false},"axis":{"values":[0,20,40,60],"title":null}},"y":{"field":"b1b","type":"quantitative","scale":{"domain":[-2,10],"nice":false},"axis":{"values":[0,4,8],"title":null}},"color":{"datum":"voxel2","type":"nominal"}}},
    {"data":{"values":[{}]},"mark":{"type":"rule","strokeDash":[3,2],"color":"#000","strokeWidth":1},"encoding":{"x":{"datum":30},"y":{"datum":9.5},"y2":{"datum":-0.6}}}
   ]},
  {"width":142,"height":110,
   "layer":[
    {"mark":{"type":"line","strokeWidth":1.2,"clip":true},"encoding":{"x":{"field":"x","type":"quantitative","scale":{"domain":[0,60],"nice":false},"axis":{"values":[0,20,40,60],"title":null}},"y":{"field":"b1k","type":"quantitative","scale":{"domain":[-5,5],"nice":false},"axis":{"values":[-5,0,5],"title":null}},"color":{"datum":"voxel2\u00a0\u00a0\u00a0\u00a0voxel1","type":"nominal"}}},
    {"data":{"values":[{}]},"mark":{"type":"rule","strokeDash":[3,2],"color":"#000","strokeWidth":1},"encoding":{"x":{"datum":30},"y":{"datum":4.2},"y2":{"datum":-4.5}}}
   ]},
  {"width":142,"height":110,
   "layer":[
    {"mark":{"type":"line","strokeWidth":1.2,"clip":true},"encoding":{"x":{"field":"x","type":"quantitative","scale":{"domain":[0,60],"nice":false},"axis":{"values":[0,20,40,60],"title":null}},"y":{"field":"b2r","type":"quantitative","scale":{"domain":[-2,10],"nice":false},"axis":{"values":[0,4,8],"title":null}},"color":{"datum":"voxel1","type":"nominal"}}},
    {"mark":{"type":"line","strokeWidth":1.2,"clip":true},"encoding":{"x":{"field":"x","type":"quantitative","scale":{"domain":[0,60],"nice":false},"axis":{"values":[0,20,40,60],"title":null}},"y":{"field":"b2b","type":"quantitative","scale":{"domain":[-2,10],"nice":false},"axis":{"values":[0,4,8],"title":null}},"color":{"datum":"voxel2","type":"nominal"}}},
    {"data":{"values":[{}]},"mark":{"type":"rule","strokeDash":[3,2],"color":"#000","strokeWidth":1},"encoding":{"x":{"datum":30},"y":{"datum":9.0},"y2":{"datum":-1.1}}}
   ]},
  {"width":142,"height":110,
   "layer":[
    {"mark":{"type":"line","strokeWidth":1.2,"clip":true},"encoding":{"x":{"field":"x","type":"quantitative","scale":{"domain":[0,60],"nice":false},"axis":{"values":[0,20,40,60],"title":null}},"y":{"field":"b2k","type":"quantitative","scale":{"domain":[-5,5],"nice":false},"axis":{"values":[-5,0,5],"title":null}},"color":{"datum":"voxel2\u00a0\u00a0\u00a0\u00a0voxel1","type":"nominal"}}},
    {"data":{"values":[{}]},"mark":{"type":"rule","strokeDash":[3,2],"color":"#000","strokeWidth":1},"encoding":{"x":{"datum":30},"y":{"datum":4.2},"y2":{"datum":-4.1}}}
   ]}
 ]},
{"title":{"text":"C)","anchor":"start","frame":"group","fontSize":15,"dx":-8,"dy":14,"offset":0},
 "columns":2,"spacing":{"row":42,"column":31},"bounds":"flush",
 "concat":[
  {"width":142,"height":110,
   "title":{"text":"coherent trial variability & incoherent scan noise","anchor":"start","frame":"group","fontSize":12,"dx":13,"offset":21},
   "layer":[
    {"mark":{"type":"line","strokeWidth":1.2,"clip":true},"encoding":{"x":{"field":"x","type":"quantitative","scale":{"domain":[0,60],"nice":false},"axis":{"values":[0,20,40,60],"title":null}},"y":{"field":"c1r","type":"quantitative","scale":{"domain":[-2,10],"nice":false},"axis":{"values":[0,4,8],"title":"LSA betas"}},"color":{"datum":"voxel1","type":"nominal"}}},
    {"mark":{"type":"line","strokeWidth":1.2,"clip":true},"encoding":{"x":{"field":"x","type":"quantitative","scale":{"domain":[0,60],"nice":false},"axis":{"values":[0,20,40,60],"title":null}},"y":{"field":"c1b","type":"quantitative","scale":{"domain":[-2,10],"nice":false},"axis":{"values":[0,4,8],"title":"LSA betas"}},"color":{"datum":"voxel2","type":"nominal"}}},
    {"data":{"values":[{}]},"mark":{"type":"rule","strokeDash":[3,2],"color":"#000","strokeWidth":1},"encoding":{"x":{"datum":30},"y":{"datum":9.3},"y2":{"datum":-0.7}}}
   ]},
  {"width":142,"height":110,
   "layer":[
    {"mark":{"type":"line","strokeWidth":1.2,"clip":true},"encoding":{"x":{"field":"x","type":"quantitative","scale":{"domain":[0,60],"nice":false},"axis":{"values":[0,20,40,60],"title":null}},"y":{"field":"c1k","type":"quantitative","scale":{"domain":[-5,5],"nice":false},"axis":{"values":[-5,0,5],"title":null}},"color":{"datum":"voxel2\u00a0\u00a0\u00a0\u00a0voxel1","type":"nominal"}}},
    {"data":{"values":[{}]},"mark":{"type":"rule","strokeDash":[3,2],"color":"#000","strokeWidth":1},"encoding":{"x":{"datum":30},"y":{"datum":3.8},"y2":{"datum":-5}}}
   ]},
  {"width":142,"height":110,
   "layer":[
    {"mark":{"type":"line","strokeWidth":1.2,"clip":true},"encoding":{"x":{"field":"x","type":"quantitative","scale":{"domain":[0,60],"nice":false},"axis":{"values":[0,20,40,60],"title":null}},"y":{"field":"c2r","type":"quantitative","scale":{"domain":[-2,10],"nice":false},"axis":{"values":[0,4,8],"title":"LSS betas"}},"color":{"datum":"voxel1","type":"nominal"}}},
    {"mark":{"type":"line","strokeWidth":1.2,"clip":true},"encoding":{"x":{"field":"x","type":"quantitative","scale":{"domain":[0,60],"nice":false},"axis":{"values":[0,20,40,60],"title":null}},"y":{"field":"c2b","type":"quantitative","scale":{"domain":[-2,10],"nice":false},"axis":{"values":[0,4,8],"title":"LSS betas"}},"color":{"datum":"voxel2","type":"nominal"}}},
    {"data":{"values":[{}]},"mark":{"type":"rule","strokeDash":[3,2],"color":"#000","strokeWidth":1},"encoding":{"x":{"datum":30},"y":{"datum":9.1},"y2":{"datum":-1.0}}}
   ]},
  {"width":142,"height":110,
   "layer":[
    {"mark":{"type":"line","strokeWidth":1.2,"clip":true},"encoding":{"x":{"field":"x","type":"quantitative","scale":{"domain":[0,60],"nice":false},"axis":{"values":[0,20,40,60],"title":null}},"y":{"field":"c2k","type":"quantitative","scale":{"domain":[-5,5],"nice":false},"axis":{"values":[-5,0,5],"title":null}},"color":{"datum":"voxel2\u00a0\u00a0\u00a0\u00a0voxel1","type":"nominal"}}},
    {"data":{"values":[{}]},"mark":{"type":"rule","strokeDash":[3,2],"color":"#000","strokeWidth":1},"encoding":{"x":{"datum":30},"y":{"datum":4.7},"y2":{"datum":-4.0}}}
   ]}
 ]},
{"title":{"text":"D)","anchor":"start","frame":"group","fontSize":15,"dx":2,"dy":14,"offset":0},
 "columns":2,"spacing":{"row":42,"column":31},"bounds":"flush",
 "concat":[
  {"width":142,"height":110,
   "title":{"text":"incoherent trial variability & coherent scan noise","anchor":"start","frame":"group","fontSize":12,"dx":21,"offset":21},
   "layer":[
    {"mark":{"type":"line","strokeWidth":1.2,"clip":true},"encoding":{"x":{"field":"x","type":"quantitative","scale":{"domain":[0,60],"nice":false},"axis":{"values":[0,20,40,60],"title":null}},"y":{"field":"d1r","type":"quantitative","scale":{"domain":[-2,10],"nice":false},"axis":{"values":[0,4,8],"title":null}},"color":{"datum":"voxel1","type":"nominal"}}},
    {"mark":{"type":"line","strokeWidth":1.2,"clip":true},"encoding":{"x":{"field":"x","type":"quantitative","scale":{"domain":[0,60],"nice":false},"axis":{"values":[0,20,40,60],"title":null}},"y":{"field":"d1b","type":"quantitative","scale":{"domain":[-2,10],"nice":false},"axis":{"values":[0,4,8],"title":null}},"color":{"datum":"voxel2","type":"nominal"}}},
    {"data":{"values":[{}]},"mark":{"type":"rule","strokeDash":[3,2],"color":"#000","strokeWidth":1},"encoding":{"x":{"datum":30},"y":{"datum":9.3},"y2":{"datum":-1.3}}}
   ]},
  {"width":142,"height":110,
   "layer":[
    {"mark":{"type":"line","strokeWidth":1.2,"clip":true},"encoding":{"x":{"field":"x","type":"quantitative","scale":{"domain":[0,60],"nice":false},"axis":{"values":[0,20,40,60],"title":null}},"y":{"field":"d1k","type":"quantitative","scale":{"domain":[-5,5],"nice":false},"axis":{"values":[-5,0,5],"title":null}},"color":{"datum":"voxel2\u00a0\u00a0\u00a0\u00a0voxel1","type":"nominal"}}},
    {"data":{"values":[{}]},"mark":{"type":"rule","strokeDash":[3,2],"color":"#000","strokeWidth":1},"encoding":{"x":{"datum":30},"y":{"datum":4.2},"y2":{"datum":-4.3}}}
   ]},
  {"width":142,"height":110,
   "layer":[
    {"mark":{"type":"line","strokeWidth":1.2,"clip":true},"encoding":{"x":{"field":"x","type":"quantitative","scale":{"domain":[0,60],"nice":false},"axis":{"values":[0,20,40,60],"title":null}},"y":{"field":"d2r","type":"quantitative","scale":{"domain":[-2,10],"nice":false},"axis":{"values":[0,4,8],"title":null}},"color":{"datum":"voxel1","type":"nominal"}}},
    {"mark":{"type":"line","strokeWidth":1.2,"clip":true},"encoding":{"x":{"field":"x","type":"quantitative","scale":{"domain":[0,60],"nice":false},"axis":{"values":[0,20,40,60],"title":null}},"y":{"field":"d2b","type":"quantitative","scale":{"domain":[-2,10],"nice":false},"axis":{"values":[0,4,8],"title":null}},"color":{"datum":"voxel2","type":"nominal"}}},
    {"data":{"values":[{}]},"mark":{"type":"rule","strokeDash":[3,2],"color":"#000","strokeWidth":1},"encoding":{"x":{"datum":30},"y":{"datum":9.3},"y2":{"datum":-0.8}}}
   ]},
  {"width":142,"height":110,
   "layer":[
    {"mark":{"type":"line","strokeWidth":1.2,"clip":true},"encoding":{"x":{"field":"x","type":"quantitative","scale":{"domain":[0,60],"nice":false},"axis":{"values":[0,20,40,60],"title":null}},"y":{"field":"d2k","type":"quantitative","scale":{"domain":[-5,5],"nice":false},"axis":{"values":[-5,0,5],"title":null}},"color":{"datum":"voxel2\u00a0\u00a0\u00a0\u00a0voxel1","type":"nominal"}}},
    {"data":{"values":[{}]},"mark":{"type":"rule","strokeDash":[3,2],"color":"#000","strokeWidth":1},"encoding":{"x":{"datum":30},"y":{"datum":4.1},"y2":{"datum":-4.6}}}
   ]}
 ]}
],
"columns":2,
"spacing":{"row":42,"column":29},
"config":{
 "view":{"stroke":null},
 "font":"Liberation Sans",
 "axis":{"grid":false,"domainColor":"#444","tickColor":"#444","tickSize":-3,"labelColor":"#333","labelFont":"Liberation Sans","labelFontSize":9,"labelPadding":7.5,"labelFlush":false,"labelOverlap":false,"titleFont":"Liberation Sans","titleFontSize":15,"titleFontWeight":"normal","titleColor":"#000","titlePadding":4},
 "title":{"font":"Liberation Sans","fontWeight":"normal","color":"#000"},
 "legend":{"orient":"none","legendX":178,"legendY":643,"direction":"horizontal","symbolType":"stroke","symbolSize":480,"symbolStrokeWidth":2,"labelFont":"Liberation Sans","labelFontSize":12,"labelColor":"#000","columnPadding":45,"labelOffset":4}
}
}
